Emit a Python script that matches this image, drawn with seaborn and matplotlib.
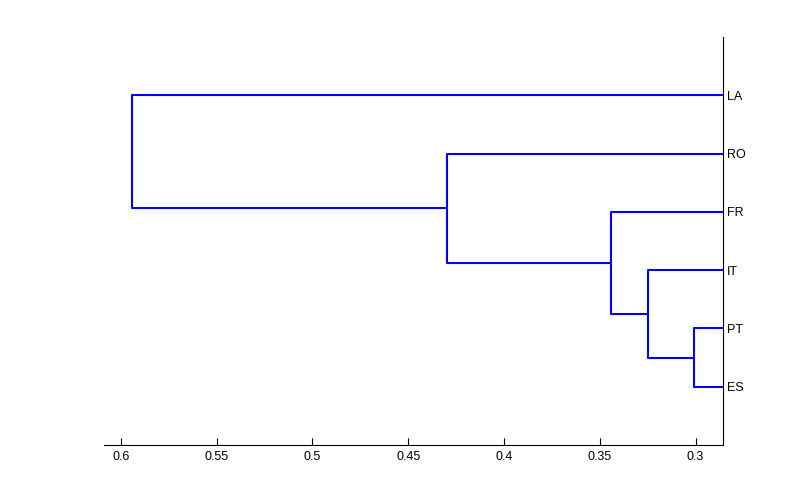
import pandas as pd
import matplotlib
matplotlib.use('Agg')
import matplotlib.pyplot as plt
import seaborn as sns

# leaves bottom -> top, and merge order with linkage heights
leaves = ['ES', 'PT', 'IT', 'FR', 'RO', 'LA']
merge_left = ['ES', 'c1', 'c2', 'c3', 'c4']
merge_right = ['PT', 'IT', 'FR', 'RO', 'LA']
merge_height = [0.3006, 0.3247, 0.344, 0.430, 0.594]
xticks = [0.6, 0.55, 0.5, 0.45, 0.4, 0.35, 0.3]
xticklabels = ['0.6', '0.55', '0.5', '0.45', '0.4', '0.35', '0.3']

# build U-shaped link paths like a dendrogram
pos = {name: i + 1 for i, name in enumerate(leaves)}
hgt = {name: 0.0 for name in leaves}
rows = []
for k, (a, b, h) in enumerate(zip(merge_left, merge_right, merge_height)):
    pts = [(hgt[a], pos[a]), (h, pos[a]), (h, pos[b]), (hgt[b], pos[b])]
    for j, (x, y) in enumerate(pts):
        rows.append({'link': k, 'order': j, 'height': x, 'pos': y})
    name = 'c%d' % (k + 1)
    pos[name] = (pos[a] + pos[b]) / 2
    hgt[name] = h
links = pd.DataFrame(rows)

sns.set_style('white')
plt.rcParams['font.family'] = ['Liberation Sans', 'DejaVu Sans']

fig = plt.figure(figsize=(7.99, 5.0), dpi=100)
ax = fig.add_axes([0.130, 0.11, 0.775, 0.816])
sns.lineplot(data=links, x='height', y='pos', units='link', estimator=None,
             sort=False, color='#0000ff', linewidth=1.5, ax=ax, legend=False)

ax.set_xlim(0.6089, 0.2856)
ax.set_ylim(0, 7)
ax.set_xticks(xticks)
ax.set_xticklabels(xticklabels, fontsize=9)
ax.set_yticks(range(1, len(leaves) + 1))
ax.set_yticklabels(leaves, fontsize=9)
ax.yaxis.tick_right()
ax.tick_params(axis='x', direction='in', length=5, width=0.8, pad=4,
               bottom=True, colors='black')
ax.tick_params(axis='y', length=0, pad=3, right=True, left=False,
               labelcolor='black')
ax.set_xlabel('')
ax.set_ylabel('')
for side in ['top', 'left']:
    ax.spines[side].set_visible(False)
for side in ['bottom', 'right']:
    ax.spines[side].set_color('black')
    ax.spines[side].set_linewidth(0.8)

fig.savefig('out.png', dpi=100)
